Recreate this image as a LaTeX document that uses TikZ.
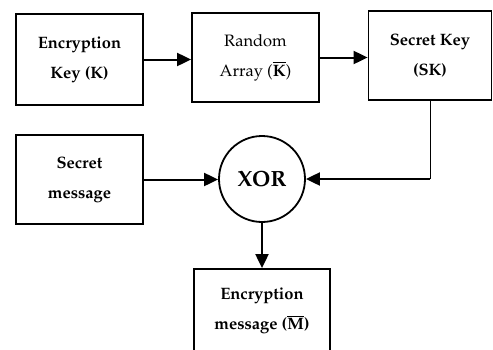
\documentclass[tikz,border=0pt]{standalone}
\usepackage[T1]{fontenc}
\usepackage{mathpazo}
\usepackage{tikz}
\usetikzlibrary{arrows.meta,positioning,calc}

\tikzset{
  blockbox/.style={draw, line width=1.8pt, align=center, inner sep=2pt,
    font=\fontsize{16.5}{30}\selectfont},
  xorcircle/.style={draw, circle, line width=1.8pt, minimum size=86pt, inner sep=0pt,
    font=\fontsize{22}{26}\selectfont\bfseries},
  flow/.style={line width=2pt, -{Triangle[length=14pt,width=13pt]}},
}

\begin{document}
\begin{tikzpicture}[x=1pt, y=-1pt]
  \useasboundingbox (0,0) rectangle (493,349);

  % Top row
  \node[blockbox, minimum width=127pt, minimum height=91pt] (EK) at (79.5,59.5)
    {\textbf{Encryption}\\\textbf{Key (K)}};
  \node[blockbox, minimum width=127pt, minimum height=89pt] (RA) at (255.5,57.5)
    {Random\\Array ($\overline{\mathbf{K}}$)};
  \node[blockbox, minimum width=123pt, minimum height=89pt] (SK) at (430,55.5)
    {\textbf{Secret Key}\\\textbf{(SK)}};

  % Middle row
  \node[blockbox, minimum width=127pt, minimum height=89pt] (SM) at (79.5,179.5)
    {\textbf{Secret}\\\textbf{message}};
  \node[xorcircle] (XOR) at (262,179) {XOR};

  % Output
  \node[blockbox, minimum width=136pt, minimum height=84pt] (EM) at (262,311)
    {\textbf{Encryption}\\\textbf{message ($\overline{\mathbf{M}}$)}};

  % Connectors
  \draw[flow] (EK.east) -- (EK.east -| RA.west);
  \draw[flow] (RA.east) -- (RA.east -| SK.west);
  \draw[flow] (SM.east) -- (SM.east -| XOR.west);
  \draw[line width=1pt] (SK.south) -- (SK.south |- XOR.east) coordinate (bend);
  \draw[flow] (bend) -- (XOR.east);
  \draw[flow] (XOR.south) -- (EM.north);
\end{tikzpicture}
\end{document}
